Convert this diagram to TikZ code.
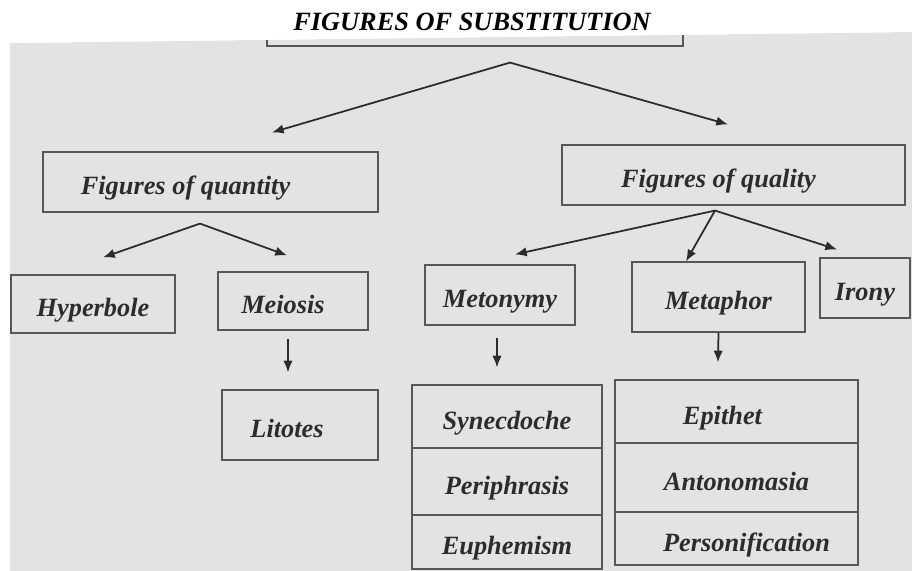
\documentclass[tikz,border=0pt]{standalone}
\usepackage{fontspec}
\setmainfont{Liberation Serif}
\usepackage{tikz}
\usetikzlibrary{arrows.meta,calc}
\definecolor{paper}{HTML}{E3E3E3}
\definecolor{ink}{HTML}{2C2C2C}
\definecolor{rule}{HTML}{575757}
\newlength\pxl
\setlength\pxl{0.03cm}

\begin{document}
\begin{tikzpicture}[x=0.03cm,y=-0.03cm,
  box/.style 2 args={draw=rule,line width=1pt,inner sep=0pt,text=ink,
    minimum width=#1*\pxl,minimum height=#2*\pxl,text height=23pt,text depth=1.5pt,
    font=\fontsize{22.5}{26}\selectfont\bfseries\itshape},
  arr/.style={draw=ink,line width=1.5pt,-{Latex[length=10pt,width=8pt]}}]
  \useasboundingbox (0,0) rectangle (912,571);
  % scanned page and the hidden top box
  \fill[paper] (10,43) -- (912,32) -- (912,571) -- (10,571) -- cycle;
  \node[box={416}{40}] (root) at (475,26) {};
  \fill[white] (0,0) -- (912,0) -- (912,32) -- (10,43) -- (0,43) -- cycle;
  \node[text=black,font=\fontsize{22.5}{26}\selectfont\bfseries\itshape] (title) at (472,22) {FIGURES OF SUBSTITUTION};

  % second level
  \node[box={335}{60}] (quant) at (210.5,182) {Figures of quantity\hspace*{50\pxl}};
  \node[box={343}{60}] (qual) at (733.5,175) {Figures of quality\hspace*{30\pxl}};

  % third level
  \node[box={164}{58}] (hyp) at (93,304) {Hyperbole};
  \node[box={150}{58}] (meio) at (293,301) {Meiosis\hspace*{20\pxl}};
  \node[box={150}{60}] (meton) at (500,295) {Metonymy};
  \node[box={173}{70}] (metaph) at (718.5,297) {Metaphor};
  \node[box={90}{60}] (irony) at (865,288) {Irony};

  % fourth level
  \node[box={156}{70}] (lit) at (300,425) {Litotes\hspace*{26\pxl}};
  \node[box={190}{63}] (syn) at (507,416.5) {Synecdoche};
  \node[box={190}{67}] (peri) at (507,481.5) {Periphrasis};
  \node[box={190}{54}] (euph) at (507,542) {Euphemism};
  \node[box={243}{63}] (epi) at (736.5,411.5) {Epithet\hspace*{28\pxl}};
  \node[box={243}{69}] (anto) at (736.5,477.5) {Antonomasia};
  \node[box={243}{53}] (pers) at (736.5,538.5) {\hspace*{20\pxl}Personification};

  % arrows
  \coordinate (rsplit) at ($(root.south)+(35,16)$);
  \draw[arr] (rsplit) -- ($(quant.north)+(61.5,-19)$);
  \draw[arr] (rsplit) -- ($(qual.north)+(-5.5,-20)$);
  \coordinate (qsplit) at ($(quant.south)+(-10.5,11)$);
  \draw[arr] (qsplit) -- ($(hyp.north)+(10,-17)$);
  \draw[arr] (qsplit) -- ($(meio.north)+(-6,-16)$);
  \coordinate (lsplit) at ($(qual.south)+(-18.5,5)$);
  \draw[arr] (lsplit) -- ($(meton.north)+(15,-10)$);
  \draw[arr] (lsplit) -- ($(metaph.north)+(-32.5,0)$);
  \draw[arr] (lsplit) -- ($(irony.north)+(-28,-8)$);
  \draw[arr] ($(meio.south)+(-5,8)$) -- ($(lit.north)+(-12,-17)$);
  \draw[arr] ($(meton.south)+(-3,12)$) -- ($(syn.north)+(-10,-17)$);
  \draw[arr] (metaph.south) -- ($(epi.north)+(-18.5,-17)$);
\end{tikzpicture}
\end{document}
